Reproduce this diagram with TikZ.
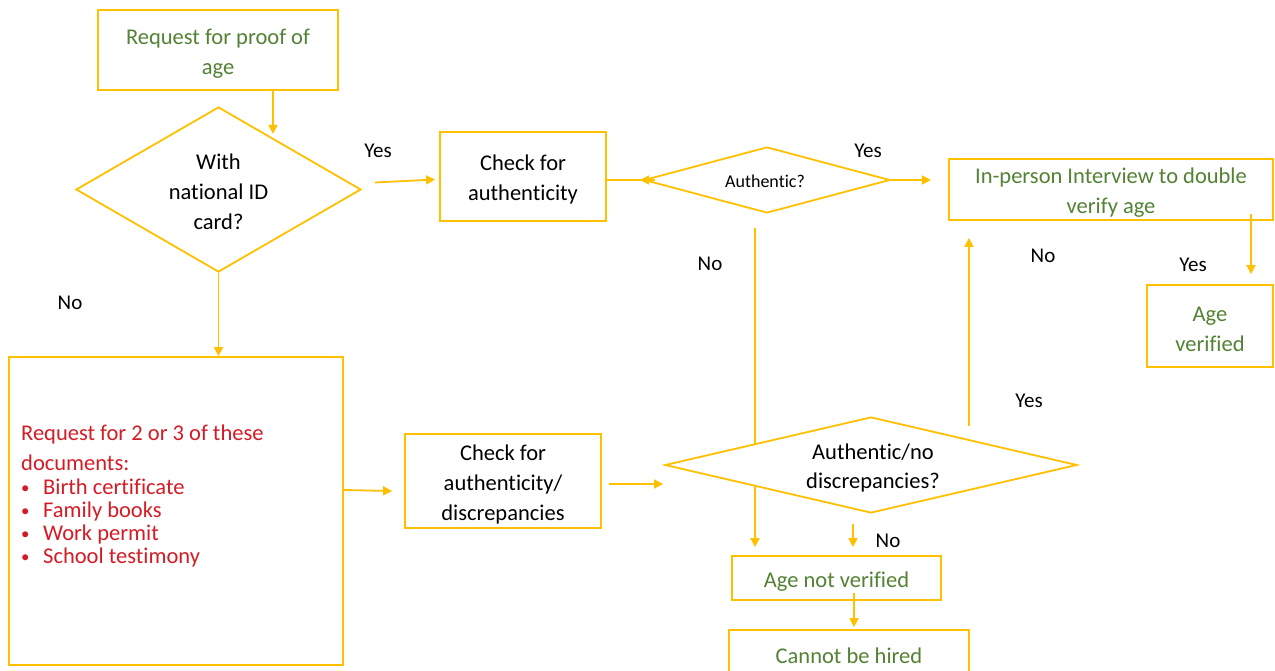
\documentclass[tikz,border=0pt]{standalone}
\usepackage{fontspec}
\setmainfont{Carlito}[Ligatures=NoCommon]
\usetikzlibrary{shapes.geometric,arrows.meta,calc}
\definecolor{gold}{RGB}{255,192,0}
\definecolor{grn}{RGB}{84,130,53}
\definecolor{rd}{RGB}{212,28,38}
\newcommand{\upstrut}{\rule{0pt}{22pt}}
\newcommand{\smbul}{\makebox[22pt][l]{\raisebox{1.5pt}{\scalebox{0.75}{\textbullet}}}}
\tikzset{
  box/.style={draw=gold, line width=1.8pt, rectangle, inner sep=0pt, fill=white, align=center},
  dia/.style={draw=gold, line width=1.8pt, diamond, inner sep=0pt, fill=white},
  arr/.style={draw=gold, line width=1.8pt, -{Triangle[length=9pt,width=9pt]}},
  ln/.style={draw=gold, line width=1.8pt},
  lbl/.style={text=black, inner sep=0pt, font=\fontsize{21}{26}\selectfont},
  gtxt/.style={text=grn, font=\fontsize{22.5}{30}\selectfont},
  ktxt/.style={text=black, font=\fontsize{22.5}{30}\selectfont},
  ctr/.style={inner sep=0pt, align=center}
}
\begin{document}
\begin{tikzpicture}[x=1pt,y=-1pt]
\useasboundingbox (0,0) rectangle (1275,671);
\fill[white] (0,0) rectangle (1275,671);
% nodes
\node[box, gtxt, minimum width=240, minimum height=80] (req) at (218,50) {\upstrut Request for proof of\\age};
\node[dia, minimum width=285, minimum height=165] (d1) at (218.5,189.5) {};
\node[ktxt, ctr] (d1t) at (218.5,192) {With\\national ID\\card?};
\node[box, ktxt, minimum width=166, minimum height=89] (chk1) at (523,176.5) {\upstrut Check for\\authenticity};
\node[dia, minimum width=246, minimum height=66] (d2) at (767,180) {};
\node[ctr, text=black, font=\fontsize{18}{22}\selectfont] (d2t) at (765,181) {Authentic?};
\node[box, gtxt, minimum width=324, minimum height=61] (iv) at (1111,189.5) {\upstrut In-person Interview to double\\verify age};
\node[box, gtxt, minimum width=126, minimum height=82] (av) at (1210,326) {\upstrut Age\\verified};
\node[box, minimum width=334, minimum height=308] (big) at (176,511) {};
\node[anchor=north west, inner sep=0pt, text=rd, align=left, font=\fontsize{22.5}{30}\selectfont] (bigt) at (21,425)
  {Request for 2 or 3 of these\\documents:\\[-6pt]
   \smbul Birth certificate\\[-7pt]
   \smbul Family books\\[-7pt]
   \smbul Work permit\\[-7pt]
   \smbul School testimony};
\node[box, ktxt, minimum width=196, minimum height=94] (chk2) at (503,481) {\upstrut Check for\\authenticity/\\discrepancies};
\node[box, gtxt, minimum width=209, minimum height=44] (anv) at (836.5,578) {\upstrut Age not verified};
\node[box, gtxt, minimum width=240, minimum height=46] (cbh) at (849,653) {\upstrut Cannot be hired};
% line behind d3
\draw[arr] ($(d2.south)+(-12,14)$) -- ($(anv.north)+(-81.5,-8)$);
\node[dia, minimum width=412, minimum height=96] (d3) at (871,465) {};
\node[ktxt, ctr, font=\fontsize{22.5}{29}\selectfont] (d3t) at (873,468) {Authentic/no\\discrepancies?};
% connectors
\draw[arr] ($(req.south)+(55,0)$) -- ($(req.south)+(55,43)$);
\draw[arr] ($(d1.east)+(13,-7)$) -- ($(chk1.west)+(-4,3)$);
\draw[arr] (d1.south) -- (d1.south |- big.north);
\draw[arr] ($(big.east)+(0,-21)$) -- ($(chk2.west)+(-12,10)$);
\draw[arr] ($(chk2.east)+(7,3)$) -- ($(d3.west)+(-1,19)$);
\draw[ln] (chk1.east |- d2.west) -- (d2.west);
\draw[arr] ($(d2.west)+(12,0)$) -- ($(d2.west)+(-3,0)$);
\draw[arr] (d2.east) -- ($(d2.east)+(40,0)$);
\draw[arr] ($(iv.south)+(140,-7)$) -- ($(av.north)+(41,-10)$);
\draw[arr] ($(d3.north)+(98,10)$) -- ($(iv.south)+(-142,17)$);
\draw[arr] ($(d3.south)+(-18,10)$) -- ($(anv.north)+(16.5,-8)$);
\draw[arr] ($(anv.south)+(17.5,-8)$) -- ($(cbh.north)+(5,-2)$);
% labels
\node[lbl] (y1) at (378,151) {Yes};
\node[lbl] (n1) at (70,303) {No};
\node[lbl] (y2) at (868,151) {Yes};
\node[lbl] (n2) at (710,264) {No};
\node[lbl] (n3) at (1043,256) {No};
\node[lbl] (y3) at (1193,265) {Yes};
\node[lbl] (y4) at (1029,401) {Yes};
\node[lbl] (n4) at (888,541) {No};
\end{tikzpicture}
\end{document}
